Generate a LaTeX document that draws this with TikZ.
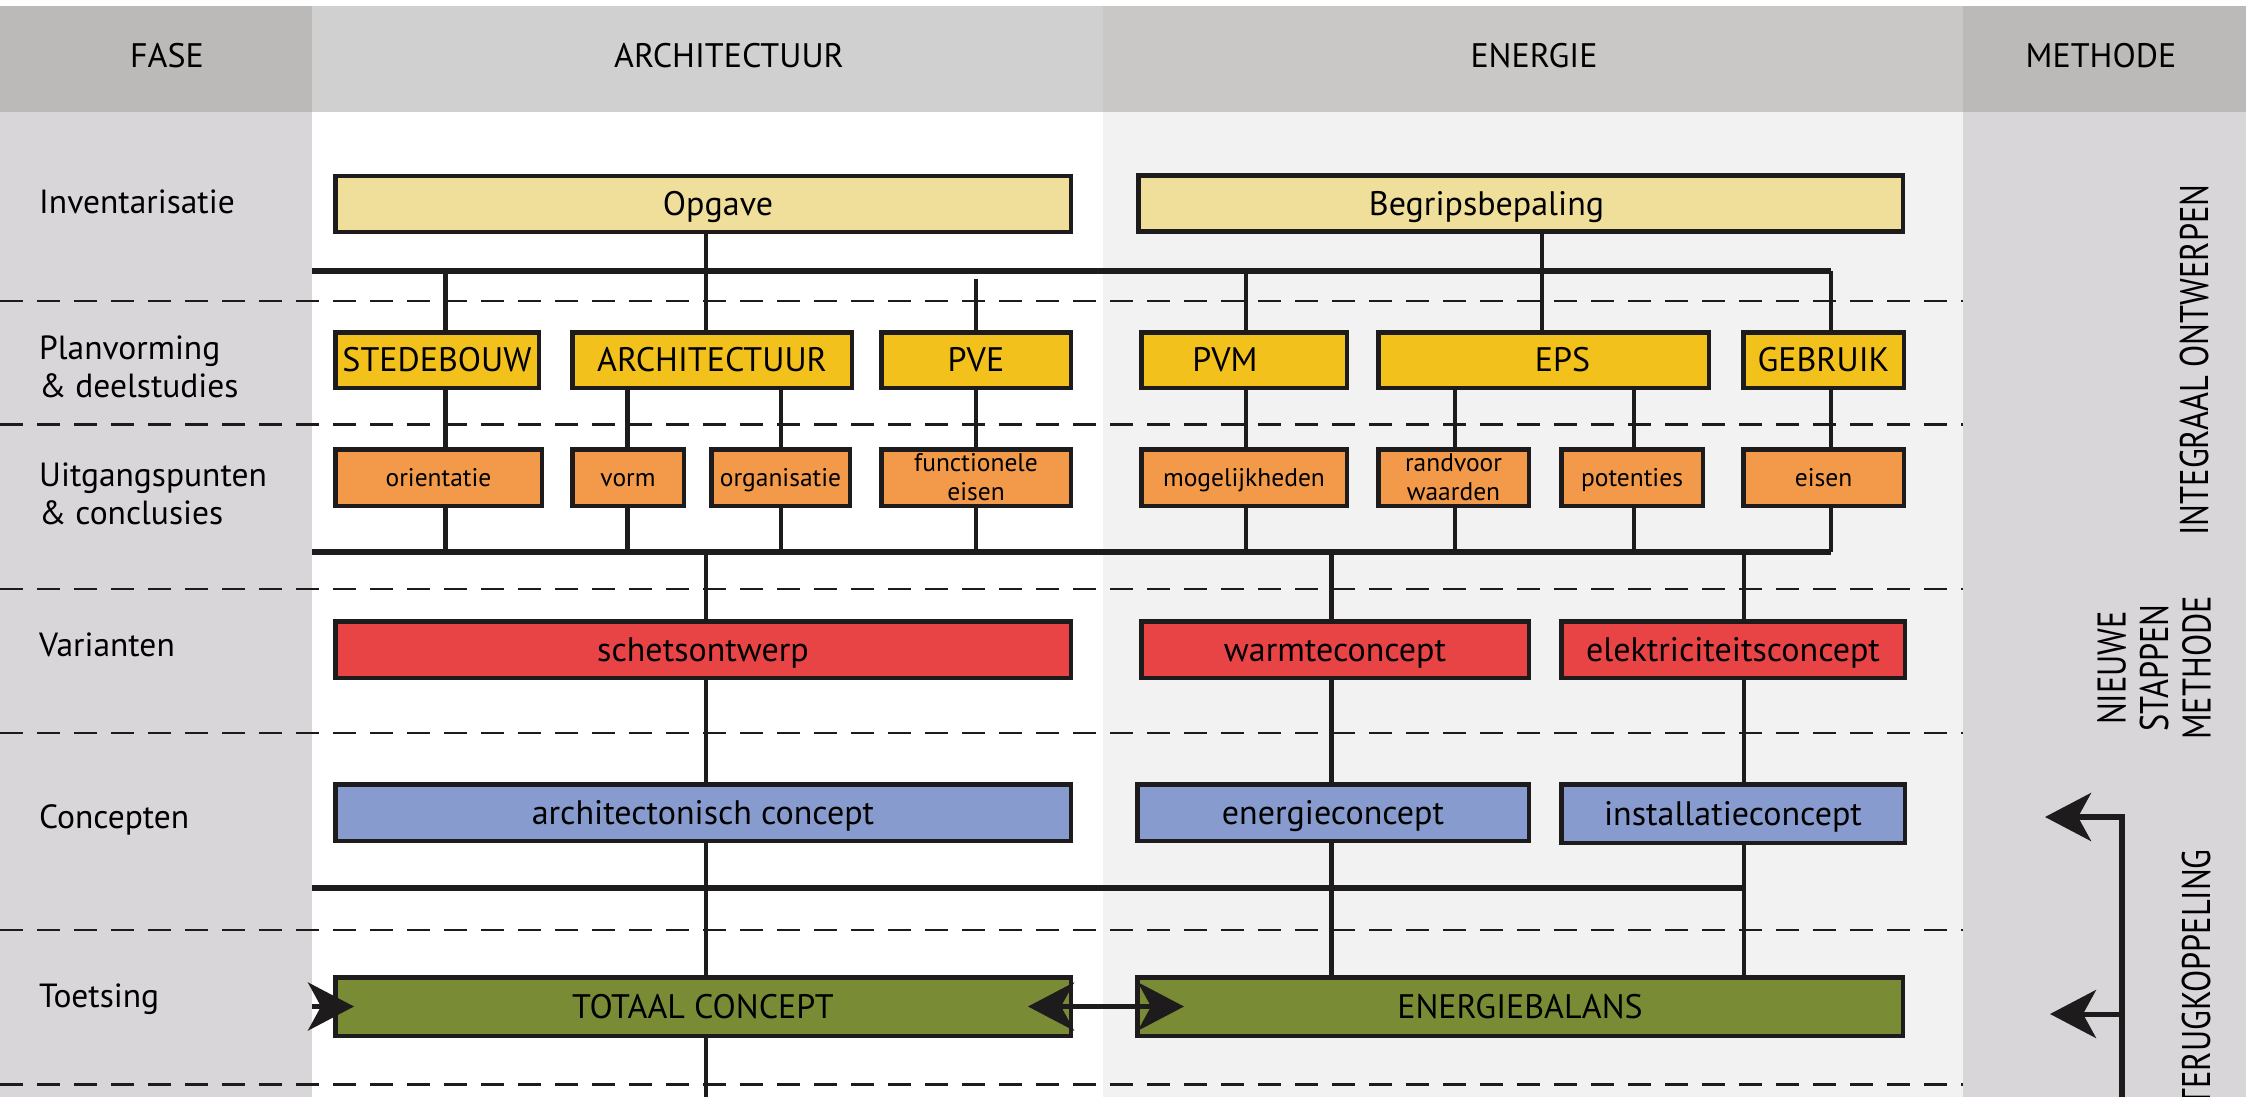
\documentclass[tikz,border=0pt]{standalone}
\usepackage{fontspec}
\setmainfont{PT Sans}
\newfontfamily\condfont{PT Sans}[FakeStretch=0.81]
\usetikzlibrary{arrows.meta}
\pgfdeclarelayer{back}
\pgfsetlayers{back,main}
\definecolor{ink}{HTML}{1E1B1C}
\definecolor{hdrdark}{HTML}{BBBAB8}
\definecolor{hdrarch}{HTML}{D0D0D0}
\definecolor{hdrener}{HTML}{C9C8C6}
\definecolor{colgray}{HTML}{D8D6D8}
\definecolor{enerbg}{HTML}{F3F2F2}
\definecolor{paleyellow}{HTML}{F0DF9B}
\definecolor{yellowbox}{HTML}{F3C11B}
\definecolor{orangebox}{HTML}{F29A4A}
\definecolor{redbox}{HTML}{E84445}
\definecolor{bluebox}{HTML}{879BCE}
\definecolor{greenbox}{HTML}{798C35}
\begin{document}
\begin{tikzpicture}[x=1pt,y=-1pt,
  box/.style={draw=ink, line width=4.5pt, inner sep=0pt, text=black},
  tbig/.style={box, font=\fontsize{34}{40}\selectfont, text height=23.8pt, text depth=0pt},
  obox/.style={box, fill=orangebox, font=\fontsize{25.5}{29}\selectfont, minimum height=56.5pt, align=center},
  tsmall/.style={obox, text height=18pt, text depth=0pt},
  conn/.style={draw=ink, line width=4.5pt},
  bus/.style={draw=ink, line width=6pt},
  dashline/.style={draw=ink, line width=2.5pt, dash pattern=on 23pt off 14pt},
  arr/.style={draw=ink, line width=5pt, -{Stealth[length=46pt,width=48pt,inset=13pt]}},
  dblarr/.style={draw=ink, line width=5pt, {Stealth[length=46pt,width=48pt,inset=13pt]}-{Stealth[length=46pt,width=48pt,inset=13pt]}},
  phase/.style={font=\fontsize{33.5}{38}\selectfont, inner sep=0pt, anchor=base west, align=left},
  hdr/.style={font=\fontsize{34}{40}\selectfont, inner sep=0pt, anchor=base},
  rot/.style={font=\condfont\fontsize{40}{42.5}\selectfont, inner sep=0pt, rotate=90, text height=28pt, text depth=0pt}]
\useasboundingbox (0,0) rectangle (2246,1097);
\clip (0,0) rectangle (2246,1097);

% ---------- boxes ----------
\node[tbig, fill=paleyellow, minimum width=735.5pt, minimum height=56pt] (opgave) at (703,204) {\hspace*{30pt}Opgave};
\node[tbig, fill=paleyellow, minimum width=764.5pt, minimum height=56pt] (begrip) at (1520.5,203.5) {\hspace*{-68pt}Begripsbepaling};

\node[tbig, fill=yellowbox, minimum width=203.5pt, minimum height=55.5pt] (stedebouw) at (437,360) {STEDEBOUW};
\node[tbig, fill=yellowbox, minimum width=279.5pt, minimum height=55.5pt] (archi) at (712,360) {ARCHITECTUUR};
\node[tbig, fill=yellowbox, minimum width=189.5pt, minimum height=55.5pt] (pve) at (976,360) {PVE};
\node[tbig, fill=yellowbox, minimum width=205.5pt, minimum height=55.5pt] (pvm) at (1244,360) {\hspace*{-38pt}PVM};
\node[tbig, fill=yellowbox, minimum width=330.5pt, minimum height=55.5pt] (eps) at (1543.5,360) {\hspace*{38pt}EPS};
\node[tbig, fill=yellowbox, minimum width=160.5pt, minimum height=55.5pt] (gebruik) at (1823.5,360) {GEBRUIK};

\node[tsmall, minimum width=206.5pt] (orient) at (438.5,477.5) {orientatie};
\node[tsmall, minimum width=111.5pt] (vorm) at (628,477.5) {vorm};
\node[tsmall, minimum width=138.5pt] (organ) at (780.5,477.5) {organisatie};
\node[obox, minimum width=189.5pt] (funct) at (976,477.5) {functionele\\eisen};
\node[tsmall, minimum width=205.5pt] (mogel) at (1244,477.5) {mogelijkheden};
\node[obox, minimum width=150.5pt] (randv) at (1453.5,477.5) {randvoor\\waarden};
\node[tsmall, minimum width=141.5pt] (potent) at (1632,477.5) {potenties};
\node[tsmall, minimum width=160.5pt] (eisen) at (1823.5,477.5) {eisen};

\node[tbig, fill=redbox, minimum width=735.5pt, minimum height=56.5pt] (schets) at (703,649.5) {schetsontwerp};
\node[tbig, fill=redbox, minimum width=387.5pt, minimum height=56.5pt] (warmte) at (1335,649.5) {warmteconcept};
\node[tbig, fill=redbox, minimum width=343.5pt, minimum height=56.5pt] (elektr) at (1733,649.5) {elektriciteitsconcept};

\node[tbig, fill=bluebox, minimum width=735.5pt, minimum height=56.5pt] (archcon) at (703,812.5) {architectonisch concept};
\node[tbig, fill=bluebox, minimum width=391.5pt, minimum height=56.5pt] (energiec) at (1333,812.5) {energieconcept};
\node[tbig, fill=bluebox, minimum width=343.5pt, minimum height=58.5pt] (install) at (1733,813.5) {installatieconcept};

\node[tbig, fill=greenbox, minimum width=735.5pt, minimum height=58.5pt] (totaal) at (703,1006.5) {TOTAAL CONCEPT};
\node[tbig, fill=greenbox, minimum width=765.5pt, minimum height=58.5pt] (balans) at (1520,1006.5) {ENERGIEBALANS};

% ---------- junction coordinates ----------
\coordinate (b1L) at (312,270.5); \coordinate (b1R) at (1831,270.5);
\coordinate (b2L) at (312,552);   \coordinate (b2R) at (1831,552);
\coordinate (b3L) at (312,888);   \coordinate (b3R) at (1743,888);
\coordinate (jA) at (706,270.5);  \coordinate (jS) at (445.5,270.5);
\coordinate (jV) at (1246,270.5); \coordinate (jE) at (1542,270.5);
\coordinate (pveTop) at (976,279);
\coordinate (kS) at (445.5,552);  \coordinate (kVo) at (627.5,552);
\coordinate (kOr) at (781,552);   \coordinate (kF) at (976,552);
\coordinate (kA) at (706,552);    \coordinate (kM) at (1246,552);
\coordinate (kR) at (1455,552);   \coordinate (kP) at (1634,552);
\coordinate (kW) at (1331.5,552); \coordinate (kE) at (1744,552);
\coordinate (bot) at (706,1100);

\begin{pgfonlayer}{back}
\fill[white] (0,0) rectangle (2246,1097);
\fill[hdrdark] (0,6) rectangle (312,112.5);
\fill[hdrarch] (312,6) rectangle (1103,112.5);
\fill[hdrener] (1103,6) rectangle (1963,112.5);
\fill[hdrdark] (1963,6) rectangle (2246,112.5);
\fill[colgray] (0,112.5) rectangle (312,1097);
\fill[enerbg] (1103,112.5) rectangle (1963,1097);
\fill[colgray] (1963,112.5) rectangle (2246,1097);
\foreach \yy in {301,424.5,589,733,930,1084.5} \draw[dashline] (0,\yy) -- (1963,\yy);

\draw[bus] (b1L) -- (b1R);
\draw[bus] (b2L) -- (b2R);
\draw[bus] (b3L) -- (b3R);
\draw[conn] (jA |- opgave.south) -- (jA |- archi.north);
\draw[conn] (jE |- begrip.south) -- (jE |- eps.north);
\draw[conn] (jS) -- (jS |- stedebouw.north);
\draw[conn] (pveTop) -- (pveTop |- pve.north);
\draw[conn] (jV) -- (jV |- pvm.north);
\draw[conn] (b1R) -- (b1R |- gebruik.north);
\draw[conn] (jS |- stedebouw.south) -- (jS |- orient.north);
\draw[conn] (kVo |- archi.south) -- (kVo |- vorm.north);
\draw[conn] (kOr |- archi.south) -- (kOr |- organ.north);
\draw[conn] (kF |- pve.south) -- (kF |- funct.north);
\draw[conn] (jV |- pvm.south) -- (jV |- mogel.north);
\draw[conn] (kR |- eps.south) -- (kR |- randv.north);
\draw[conn] (kP |- eps.south) -- (kP |- potent.north);
\draw[conn] (b2R |- gebruik.south) -- (b2R |- eisen.north);
\draw[conn] (kS |- orient.south) -- (kS);
\draw[conn] (kVo |- vorm.south) -- (kVo);
\draw[conn] (kOr |- organ.south) -- (kOr);
\draw[conn] (kF |- funct.south) -- (kF);
\draw[conn] (kM |- mogel.south) -- (kM);
\draw[conn] (kR |- randv.south) -- (kR);
\draw[conn] (kP |- potent.south) -- (kP);
\draw[conn] (b2R |- eisen.south) -- (b2R);
\draw[conn] (kA) -- (kA |- schets.north);
\draw[conn] (kW) -- (kW |- warmte.north);
\draw[conn] (kE) -- (kE |- elektr.north);
\draw[conn] (kA |- schets.south) -- (kA |- archcon.north);
\draw[conn] (kW |- warmte.south) -- (kW |- energiec.north);
\draw[conn] (kE |- elektr.south) -- (kE |- install.north);
\draw[conn] (kA |- archcon.south) -- (kA |- totaal.north);
\draw[conn] (kW |- energiec.south) -- (kW |- balans.north);
\draw[conn] (kE |- install.south) -- (kE |- balans.north);
\draw[conn] (kA |- totaal.south) -- (bot);
\end{pgfonlayer}

% ---------- arrows ----------
\coordinate (aL) at (312,1006.5);
\draw[arr] (aL) -- ([xshift=21pt]totaal.west);
\draw[dblarr] ([xshift=-45pt]totaal.east) -- ([xshift=49pt]balans.west);
\coordinate (fbbot) at (2122,1100);
\coordinate (fbtop) at (2122,817);
\coordinate (fb1) at (2045,817);
\coordinate (fb2src) at (2122,1014);
\coordinate (fb2) at (2050,1014);
\draw[arr, line width=5.5pt] (fbbot) -- (fbtop) -- (fb1);
\draw[arr] (fb2src) -- (fb2);

% ---------- texts ----------
\node[hdr] (hFase) at (167,68) {FASE};
\node[hdr] (hArch) at (729,68) {ARCHITECTUUR};
\node[hdr] (hEner) at (1534,68) {ENERGIE};
\node[hdr] (hMeth) at (2101,68) {METHODE};

\node[phase] (pInv) at (39,213) {Inventarisatie};
\node[phase] (pPlan) at (39,397) {Planvorming\\\& deelstudies};
\node[phase] (pUit) at (39,524) {Uitgangspunten\\\& conclusies};
\node[phase] (pVar) at (39,656) {Varianten};
\node[phase] (pCon) at (39,828.5) {Concepten};
\node[phase] (pToe) at (39,1007) {Toetsing};

\node[rot] (mInt) at (2194,360) {INTEGRAAL ONTWERPEN};
\node[rot, text height={}, text depth={}, align=center] (mNsm) at (2154,668) {NIEUWE\\STAPPEN\\METHODE};
\node[rot, anchor=east] (mTer) at (2196,849) {TERUGKOPPELING};
\end{tikzpicture}
\end{document}
